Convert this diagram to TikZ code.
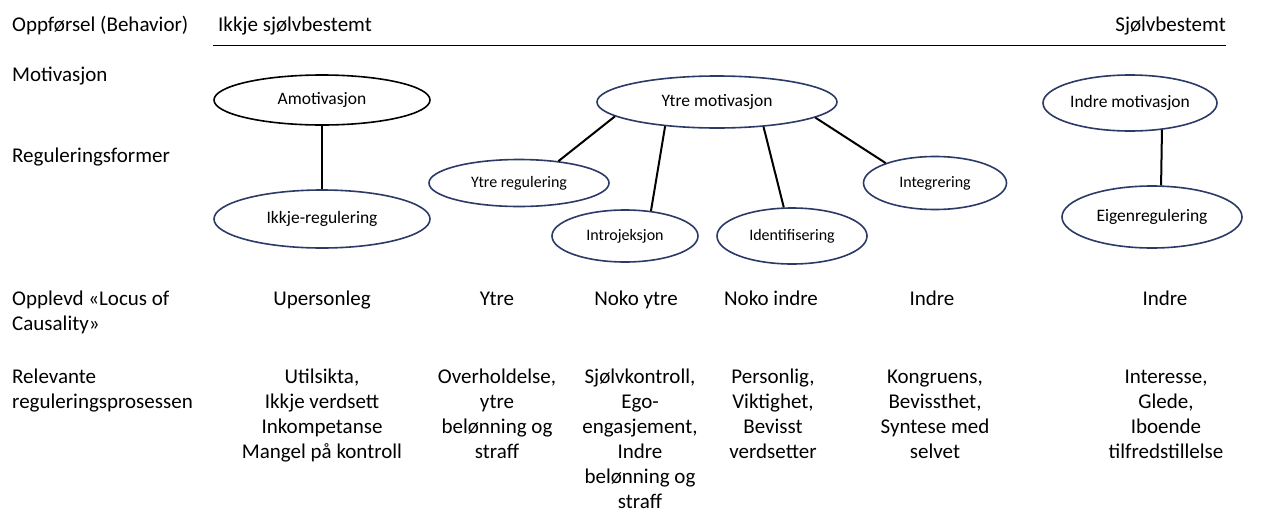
\documentclass[tikz,border=0pt]{standalone}
\usepackage{fontspec}
\setmainfont{Carlito}
\usetikzlibrary{shapes.geometric}
\definecolor{navy}{HTML}{2B3A67}
\tikzset{
  ell/.style={ellipse, draw=navy, line width=1.6pt, inner sep=0pt, font=\fontsize{17.5}{20}\selectfont},
  sell/.style={ell, font=\fontsize{16}{19}\selectfont},
  conn/.style={draw=black, line width=2pt},
  lbl/.style={anchor=base west, inner sep=0pt, font=\fontsize{21}{25}\selectfont, align=left},
  col/.style={anchor=base, inner sep=0pt, font=\fontsize{21}{25}\selectfont, align=center},
}
\begin{document}
\begin{tikzpicture}[x=1pt,y=-1pt]
\useasboundingbox (0,0) rectangle (1274,517);
% header
\node[lbl] (beh) at (12,31.5) {Oppførsel (Behavior)};
\node[lbl] (ikkjesb) at (218,31.5) {Ikkje sjølvbestemt};
\node[lbl, anchor=base east] (sb) at (1226,31.5) {Sjølvbestemt};
\coordinate (la) at (213,45.5);
\coordinate (lb) at (1226,45.5);
\draw[line width=1.5pt] (la) -- (lb);
% row labels (y = baseline of last line)
\node[lbl] (mot) at (12,81.5) {Motivasjon};
\node[lbl] (reg) at (12,162) {Reguleringsformer};
\node[lbl] (loc) at (12,330) {Opplevd «Locus of\\Causality»};
\node[lbl] (rel) at (12,408) {Relevante\\reguleringsprosessen};
% ellipses
\node[ell, draw=black, minimum width=216pt, minimum height=50pt] (amot) at (322,100) {Amotivasjon};
\node[ell, minimum width=216pt, minimum height=58pt] (ikkje) at (322,219) {Ikkje-regulering};
\node[ell, minimum width=240pt, minimum height=52pt] (ym) at (717,102) {Ytre motivasjon};
\node[sell, minimum width=180pt, minimum height=47pt] (yr) at (519,183) {Ytre regulering};
\node[sell, minimum width=146pt, minimum height=52pt] (intro) at (625,236) {Introjeksjon};
\node[sell, minimum width=150pt, minimum height=56pt] (ident) at (792,236) {Identifisering};
\node[sell, minimum width=143pt, minimum height=53pt] (integ) at (935,183) {Integrering};
\node[ell, minimum width=174pt, minimum height=56pt] (im) at (1130,103) {Indre motivasjon};
\node[ell, minimum width=180pt, minimum height=62pt] (eigen) at (1152,217) {Eigenregulering};
% connectors
\draw[conn] (amot.south) -- (ikkje.north);
\draw[conn] (ym.-172) -- (yr.29);
\draw[conn] (ym.-155) -- (intro.44);
\draw[conn] (ym.-28) -- (ident.106);
\draw[conn] (ym.-9) -- (integ.158);
\draw[conn] (im.-40) -- (eigen.74);
% locus row
\node[col] (c1) at (322,305) {Upersonleg};
\node[col] (c2) at (497,305) {Ytre};
\node[col] (c3) at (636,305) {Noko ytre};
\node[col] (c4) at (771,305) {Noko indre};
\node[col] (c5) at (932,305) {Indre};
\node[col] (c6) at (1165,305) {Indre};
% processes (y = baseline of last line; first line at 383)
\node[col] (p1) at (322,458) {Utilsikta,\\Ikkje verdsett\\Inkompetanse\\Mangel på kontroll};
\node[col] (p2) at (497,458) {Overholdelse,\\ytre\\belønning og\\straff};
\node[col] (p3) at (640,508) {Sjølvkontroll,\\Ego-\\engasjement,\\Indre\\belønning og\\straff};
\node[col] (p4) at (773,458) {Personlig,\\Viktighet,\\Bevisst\\verdsetter};
\node[col] (p5) at (935,458) {Kongruens,\\Bevissthet,\\Syntese med\\selvet};
\node[col] (p6) at (1166,458) {Interesse,\\Glede,\\Iboende\\tilfredstillelse};
\end{tikzpicture}
\end{document}
